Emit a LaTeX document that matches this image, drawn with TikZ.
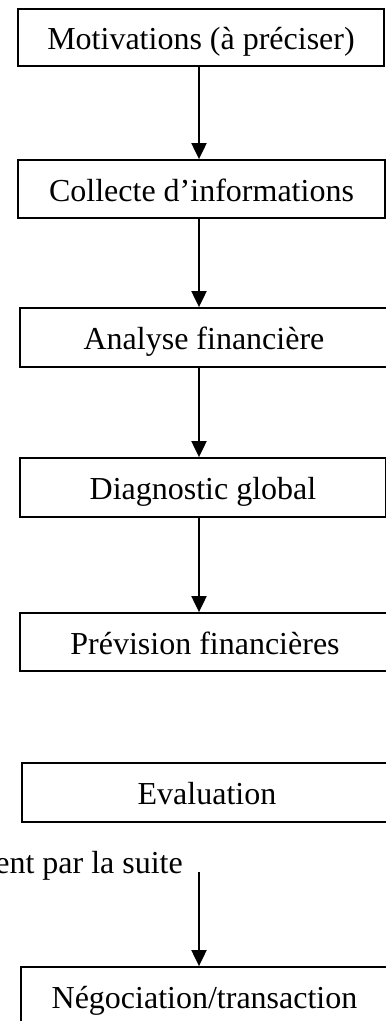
\documentclass[tikz,border=0pt]{standalone}
\usepackage{fontspec}
\setmainfont{Liberation Serif}
\usetikzlibrary{arrows.meta}
\begin{document}
\begin{tikzpicture}[x=1bp,y=-1bp,
  stepbox/.style={draw, line width=1.8bp, inner sep=0pt, minimum height=58bp,
    text height=24bp, text depth=0bp,
    font=\fontsize{32bp}{36bp}\selectfont},
  arr/.style={line width=2bp, -{Triangle[width=15bp,length=16bp]}},
  lbl/.style={inner sep=0pt, font=\fontsize{32bp}{36bp}\selectfont}]
\useasboundingbox (0,0) rectangle (385,1021);
\coordinate (ax) at (199,0);
\node[stepbox, minimum width=366bp, minimum height=57bp] (b1) at (201,37.5) {Motivations (à préciser)};
\node[stepbox, minimum width=367bp] (b2) at (201.5,189) {Collecte d’informations};
\node[stepbox, minimum width=368bp, minimum height=59bp] (b3) at (204,337.5) {Analyse financière};
\node[stepbox, minimum width=366bp, minimum height=59bp] (b4) at (203,487.5) {Diagnostic global};
\node[stepbox, minimum width=370bp] (b5) at (205,642) {Prévision financières};
\node[stepbox, minimum width=370bp, minimum height=59bp] (b6) at (207,792.5) {Evaluation};
\node[stepbox, minimum width=367bp] (b7) at (204.5,996) {Négociation/transaction};
\node[lbl, anchor=base east] (t) at (183,873) {ent par la suite};
\coordinate (s5) at (199,872);
\draw[arr] (b1.south -| ax) -- (b2.north -| ax);
\draw[arr] (b2.south -| ax) -- (b3.north -| ax);
\draw[arr] (b3.south -| ax) -- (b4.north -| ax);
\draw[arr] (b4.south -| ax) -- (b5.north -| ax);
\draw[arr] (s5) -- (b7.north -| ax);
\end{tikzpicture}
\end{document}
